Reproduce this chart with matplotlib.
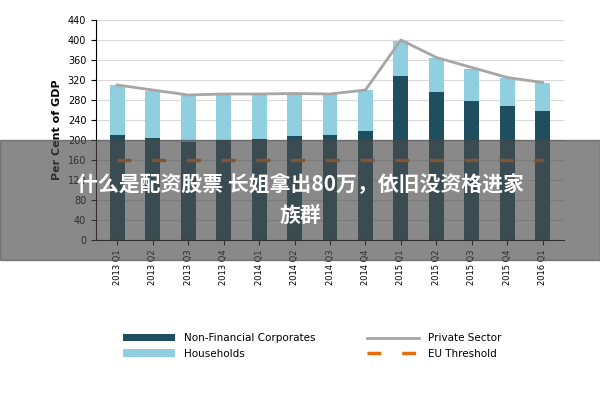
import matplotlib.pyplot as plt
import numpy as np

quarters = ["2013 Q1", "2013 Q2", "2013 Q3", "2013 Q4", "2014 Q1", "2014 Q2", "2014 Q3",
            "2014 Q4", "2015 Q1", "2015 Q2", "2015 Q3", "2015 Q4", "2016 Q1"]
nfc = [210, 205, 197, 200, 203, 208, 210, 218, 328, 297, 278, 268, 258]
households = [100, 93, 93, 92, 89, 87, 82, 82, 70, 68, 64, 57, 57]
private = [310, 300, 290, 292, 292, 293, 292, 300, 400, 365, 345, 325, 315]
eu_threshold = [160] * 13

fig = plt.figure(figsize=(6, 4), dpi=100)
ax = fig.add_axes([0.16, 0.4, 0.78, 0.55])
x = np.arange(len(quarters))
b1 = ax.bar(x, nfc, width=0.42, color="#1f4e5f", label="Non-Financial Corporates")
b2 = ax.bar(x, households, width=0.42, bottom=nfc, color="#8fcfe0", label="Households")
l1, = ax.plot(x, private, color="#a6a6a6", lw=2, label="Private Sector")
l2, = ax.plot(x, eu_threshold, color="#e46c0a", lw=2.5, dashes=(4, 6), label="EU Threshold")
ax.set_ylim(0, 440)
ax.set_yticks(range(0, 441, 40))
ax.set_xlim(-0.6, len(x) - 0.4)
ax.set_xticks(x)
ax.set_xticklabels(quarters, rotation=90, fontsize=6)
ax.tick_params(axis="y", labelsize=7)
ax.yaxis.grid(True, color="#d9d9d9")
ax.set_axisbelow(True)
for s in ["top", "right"]:
    ax.spines[s].set_visible(False)
ax.set_ylabel("Per Cent of GDP", fontsize=8, fontweight="bold")
fig.legend([b1, b2, l1, l2], [h.get_label() for h in (b1, b2, l1, l2)],
           loc="lower center", bbox_to_anchor=(0.52, 0.08), ncol=2, frameon=False,
           fontsize=7.5, handlelength=5, columnspacing=5)

# translucent caption band
fig.patches.append(plt.Rectangle((0, 0.35), 1, 0.3, transform=fig.transFigure,
                                 color="#4a4a4a", alpha=0.65, zorder=5))
fig.text(0.5, 0.5, "什么是配资股票 长姐拿出80万，依旧没资格进家\n族群", color="white",
         fontsize=15, fontfamily=["Noto Sans CJK SC", "Noto Sans CJK JP", "DejaVu Sans"],
         fontweight="bold", ha="center", va="center", linespacing=1.6, zorder=6)
fig.savefig("out.png")
